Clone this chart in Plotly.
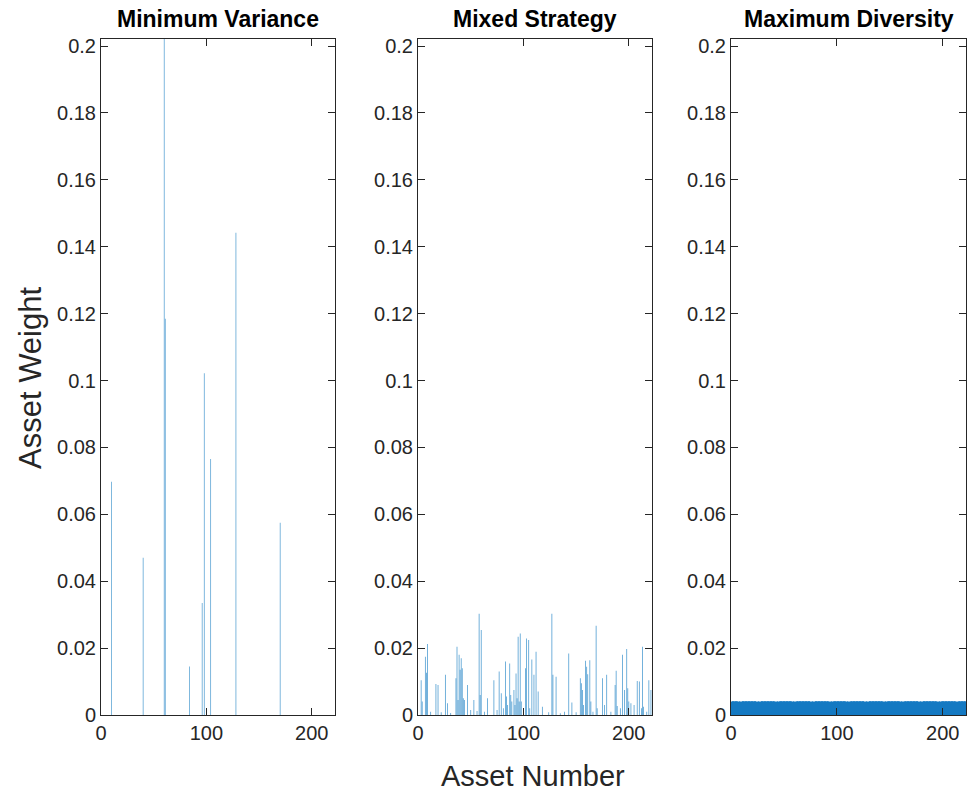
import plotly.graph_objects as go

# ---------------- data ----------------
n_assets = 221
asset_numbers = list(range(1, n_assets + 1))

# Minimum Variance: non-zero weights (asset index, weight)
minvar_assets = [10, 40, 60, 61, 84, 96, 98, 104, 128, 170]
minvar_weights = [0.0697, 0.047, 0.24, 0.1185, 0.0145, 0.0335, 0.1022, 0.0765, 0.1442, 0.0575]

# Mixed Strategy: non-zero weights
mixed_assets = [3, 4, 7, 8, 9, 12, 17, 19, 22, 26, 28, 31, 36, 37, 38, 39, 40, 41, 42, 43,
                44, 47, 50, 53, 56, 58, 59, 60, 63, 66, 72, 75, 77, 79, 81, 83, 84, 85, 87, 88,
                89, 91, 92, 93, 94, 95, 96, 97, 98, 100, 102, 103, 105, 106, 108, 110, 112, 114, 118, 124,
                127, 128, 131, 135, 139, 143, 146, 150, 154, 155, 156, 157, 159, 160, 161, 163, 164, 166, 169, 170,
                175, 177, 179, 183, 187, 188, 189, 192, 194, 196, 198, 199, 200, 202, 205, 208, 210, 212, 213, 214,
                217, 219, 221]
mixed_weights = [0.0104, 0.004, 0.0174, 0.0126, 0.0212, 0.001, 0.0093, 0.009, 0.0008, 0.012, 0.0035, 0.0006, 0.011, 0.0204, 0.0045, 0.018, 0.0135, 0.017, 0.014, 0.005,
                 0.0045, 0.009, 0.0015, 0.0045, 0.0012, 0.0303, 0.006, 0.0254, 0.001, 0.005, 0.0104, 0.0015, 0.013, 0.0065, 0.002, 0.016, 0.0055, 0.003, 0.0154, 0.006,
                 0.004, 0.0075, 0.003, 0.0124, 0.005, 0.0234, 0.004, 0.0244, 0.004, 0.0015, 0.014, 0.0229, 0.0224, 0.002, 0.0166, 0.012, 0.0189, 0.007, 0.0025, 0.0008,
                 0.0303, 0.012, 0.0114, 0.0005, 0.001, 0.0184, 0.0037, 0.0008, 0.011, 0.0095, 0.0075, 0.003, 0.0162, 0.0144, 0.0122, 0.0164, 0.004, 0.001, 0.0267, 0.002,
                 0.011, 0.003, 0.012, 0.001, 0.009, 0.0132, 0.0027, 0.002, 0.018, 0.0075, 0.0197, 0.008, 0.004, 0.0035, 0.003, 0.0102, 0.01, 0.002, 0.0204, 0.0025,
                 0.001, 0.0104, 0.0075]

# Maximum Diversity: every asset has (almost) the same weight
maxdiv_weights = [
    0.0040, 0.0041, 0.0040, 0.0040, 0.0041, 0.0040, 0.0040, 0.0041, 0.0040, 0.0040, 0.0041, 0.0040, 0.0040,
    0.0041, 0.0040, 0.0040, 0.0041, 0.0040, 0.0040, 0.0041, 0.0040, 0.0040, 0.0041, 0.0040, 0.0040, 0.0041,
    0.0040, 0.0040, 0.0041, 0.0040, 0.0040, 0.0041, 0.0040, 0.0040, 0.0041, 0.0040, 0.0040, 0.0041, 0.0040,
    0.0040, 0.0041, 0.0040, 0.0040, 0.0041, 0.0040, 0.0040, 0.0041, 0.0040, 0.0040, 0.0041, 0.0040, 0.0040,
    0.0041, 0.0040, 0.0040, 0.0041, 0.0040, 0.0040, 0.0041, 0.0040, 0.0040, 0.0041, 0.0040, 0.0040, 0.0041,
    0.0040, 0.0040, 0.0041, 0.0040, 0.0040, 0.0041, 0.0040, 0.0040, 0.0041, 0.0040, 0.0040, 0.0041, 0.0040,
    0.0040, 0.0041, 0.0040, 0.0040, 0.0041, 0.0040, 0.0040, 0.0041, 0.0040, 0.0040, 0.0041, 0.0040, 0.0040,
    0.0041, 0.0040, 0.0040, 0.0041, 0.0040, 0.0040, 0.0041, 0.0040, 0.0040, 0.0041, 0.0040, 0.0040, 0.0041,
    0.0040, 0.0040, 0.0041, 0.0040, 0.0040, 0.0041, 0.0040, 0.0040, 0.0041, 0.0040, 0.0040, 0.0041, 0.0040,
    0.0040, 0.0041, 0.0040, 0.0040, 0.0041, 0.0040, 0.0040, 0.0041, 0.0040, 0.0040, 0.0041, 0.0040, 0.0040,
    0.0041, 0.0040, 0.0040, 0.0041, 0.0040, 0.0040, 0.0041, 0.0040, 0.0040, 0.0041, 0.0040, 0.0040, 0.0041,
    0.0040, 0.0040, 0.0041, 0.0040, 0.0040, 0.0041, 0.0040, 0.0040, 0.0041, 0.0040, 0.0040, 0.0041, 0.0040,
    0.0040, 0.0041, 0.0040, 0.0040, 0.0041, 0.0040, 0.0040, 0.0041, 0.0040, 0.0040, 0.0041, 0.0040, 0.0040,
    0.0041, 0.0040, 0.0040, 0.0041, 0.0040, 0.0040, 0.0041, 0.0040, 0.0040, 0.0041, 0.0040, 0.0040, 0.0041,
    0.0040, 0.0040, 0.0041, 0.0040, 0.0040, 0.0041, 0.0040, 0.0040, 0.0041, 0.0040, 0.0040, 0.0041, 0.0040,
    0.0040, 0.0041, 0.0040, 0.0040, 0.0041, 0.0040, 0.0040, 0.0041, 0.0040, 0.0040, 0.0041, 0.0040, 0.0040,
    0.0041, 0.0040, 0.0040, 0.0041, 0.0040, 0.0040, 0.0041, 0.0040, 0.0040, 0.0041, 0.0040, 0.0040, 0.0041,
]

titles = ["Minimum Variance", "Mixed Strategy", "Maximum Diversity"]
y_tick_vals = [0, 0.02, 0.04, 0.06, 0.08, 0.1, 0.12, 0.14, 0.16, 0.18, 0.2]
y_tick_text = ["0", "0.02", "0.04", "0.06", "0.08", "0.1", "0.12", "0.14", "0.16", "0.18", "0.2"]
x_tick_vals = [0, 100, 200]
x_tick_text = ["0", "100", "200"]


def full_vector(idx, w):
    out = [0.0] * n_assets
    for i, v in zip(idx, w):
        out[i - 1] = v
    return out


series = [
    full_vector(minvar_assets, minvar_weights),
    full_vector(mixed_assets, mixed_weights),
    maxdiv_weights,
]
bar_colors = ["rgba(0,114,189,0.6)", "rgba(0,114,189,0.65)", "#1479C2"]

# ---------------- figure ----------------
W, H = 967, 793
x_px = [(101, 335), (418, 652), (731, 966)]
y_px = (39, 715)
axis_color = "#262626"
font_family = "Liberation Sans, Arial, Helvetica, sans-serif"

fig = go.Figure()
layout = dict(
    template="none",
    width=W, height=H, autosize=False,
    margin=dict(l=0, r=0, t=0, b=0, pad=0),
    paper_bgcolor="white", plot_bgcolor="white",
    showlegend=False,
    font=dict(family=font_family, color=axis_color),
)

y_dom = [(H - y_px[1]) / H, (H - y_px[0]) / H]
annotations = []
for k in range(3):
    sfx = "" if k == 0 else str(k + 1)
    fig.add_trace(go.Bar(
        x=asset_numbers, y=series[k], width=0.8,
        marker=dict(color=bar_colors[k], line=dict(width=0)),
        xaxis="x" + sfx, yaxis="y" + sfx,
    ))
    layout["xaxis" + sfx] = dict(
        domain=[x_px[k][0] / W, x_px[k][1] / W], anchor="y" + sfx,
        range=[0, 222], tickvals=x_tick_vals, ticktext=x_tick_text,
        ticks="inside", ticklen=7, tickwidth=1, tickcolor=axis_color,
        showline=True, linecolor=axis_color, linewidth=1, mirror="ticks",
        showgrid=False, zeroline=False, automargin=False,
        tickfont=dict(size=20, color=axis_color, family=font_family),
    )
    layout["yaxis" + sfx] = dict(
        domain=y_dom, anchor="x" + sfx,
        range=[0, 0.2021], tickvals=y_tick_vals, ticktext=y_tick_text,
        ticks="inside", ticklen=7, tickwidth=1, tickcolor=axis_color,
        showline=True, linecolor=axis_color, linewidth=1, mirror="ticks",
        showgrid=False, zeroline=False, automargin=False,
        tickfont=dict(size=20, color=axis_color, family=font_family),
    )
    annotations.append(dict(
        text="<b>" + titles[k] + "</b>", xref="paper", yref="paper",
        x=(x_px[k][0] + x_px[k][1]) / 2 / W, y=(H - 19) / H,
        xanchor="center", yanchor="middle", showarrow=False,
        font=dict(size=23, color="#000000", family=font_family),
    ))

annotations.append(dict(
    text="Asset Number", xref="paper", yref="paper",
    x=533 / W, y=(H - 776) / H, xanchor="center", yanchor="middle",
    showarrow=False, borderpad=0,
    font=dict(size=29, color=axis_color, family=font_family),
))
annotations.append(dict(
    text="Asset Weight", xref="paper", yref="paper", textangle=-90,
    x=30 / W, y=(H - 378) / H, xanchor="center", yanchor="middle",
    showarrow=False, borderpad=0,
    font=dict(size=31, color=axis_color, family=font_family),
))
layout["annotations"] = annotations
fig.update_layout(**layout)

fig.write_html(
    "out.html",
    config={"displayModeBar": False},
    post_script="document.body.style.margin='0px';document.body.style.overflow='hidden';",
)
